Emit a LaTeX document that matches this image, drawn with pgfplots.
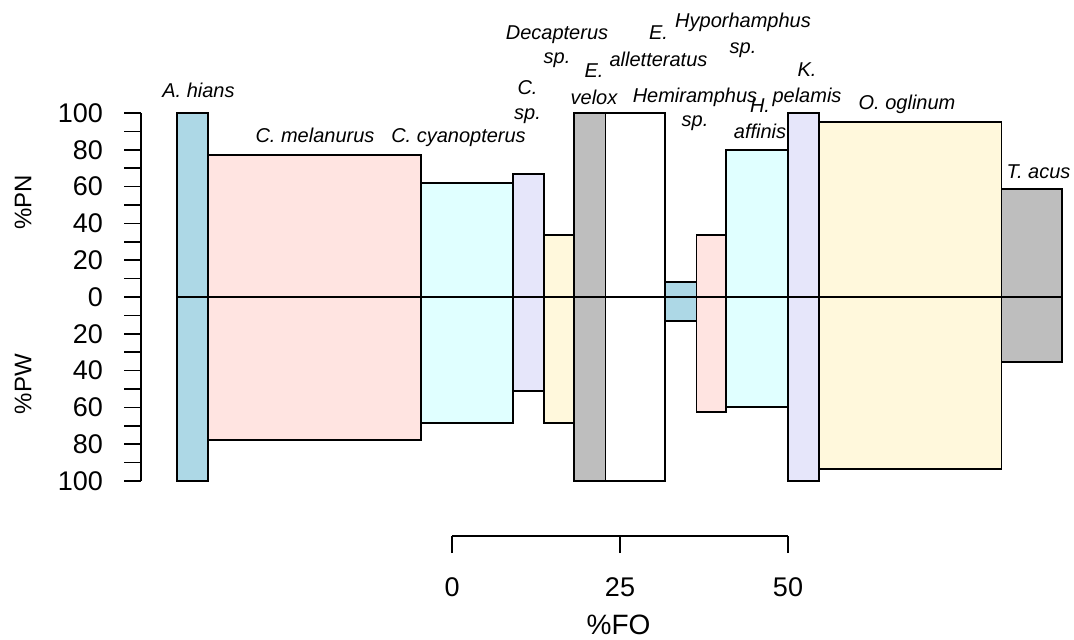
\documentclass[border=0pt]{standalone}
\usepackage{fontspec}
\setmainfont{Liberation Sans}
\usepackage{pgfplots}
\pgfplotsset{compat=1.18}
\definecolor{cLB}{RGB}{173,216,230}
\definecolor{cMR}{RGB}{255,228,225}
\definecolor{cLC}{RGB}{224,255,255}
\definecolor{cLV}{RGB}{230,230,250}
\definecolor{cCS}{RGB}{255,248,220}
\definecolor{cGR}{RGB}{190,190,190}
\begin{document}
\begin{tikzpicture}[lab/.style={anchor=base, font=\fontsize{10}{12}\selectfont\itshape, inner sep=0pt}]
\useasboundingbox (0,0) rectangle (537pt,319.5pt);
\begin{axis}[
  at={(226pt,171pt)}, anchor=origin,
  x=3.36pt, y=0.92pt,
  xmin=-46.28, xmax=90.82, ymin=-100, ymax=100,
  axis x line=none, axis y line*=left,
  axis line style={line width=0.8pt, black},
  ytick={-100,-80,-60,-40,-20,0,20,40,60,80,100},
  minor ytick={-90,-70,-50,-30,-10,10,30,50,70,90},
  yticklabels={100,80,60,40,20,0,20,40,60,80,100},
  tick align=outside, major tick length=8.5pt, minor tick length=8.5pt,
  tick style={line width=0.8pt, black},
  yticklabel style={font=\fontsize{13.5}{16}\selectfont, xshift=-7pt},
  clip=false,
]
\addplot[fill=cLB, draw=black, line width=0.9pt] coordinates {(-40.92,-100) (-40.92,100) (-36.31,100) (-36.31,-100)} -- cycle;
\addplot[fill=cMR, draw=black, line width=0.9pt] coordinates {(-36.31,-77.7) (-36.31,77.2) (-4.61,77.2) (-4.61,-77.7)} -- cycle;
\addplot[fill=cLC, draw=black, line width=0.9pt] coordinates {(-4.61,-68.5) (-4.61,62.0) (9.08,62.0) (9.08,-68.5)} -- cycle;
\addplot[fill=cLV, draw=black, line width=0.9pt] coordinates {(9.08,-51.1) (9.08,66.8) (13.69,66.8) (13.69,-51.1)} -- cycle;
\addplot[fill=cCS, draw=black, line width=0.9pt] coordinates {(13.69,-68.5) (13.69,33.7) (18.15,33.7) (18.15,-68.5)} -- cycle;
\addplot[fill=cGR, draw=black, line width=0.9pt] coordinates {(18.15,-100) (18.15,100) (22.84,100) (22.84,-100)} -- cycle;
\addplot[fill=white, draw=black, line width=0.9pt] coordinates {(22.84,-100) (22.84,100) (31.70,100) (31.70,-100)} -- cycle;
\addplot[fill=cLB, draw=black, line width=0.9pt] coordinates {(31.70,-13.0) (31.70,8.2) (36.38,8.2) (36.38,-13.0)} -- cycle;
\addplot[fill=cMR, draw=black, line width=0.9pt] coordinates {(36.38,-62.5) (36.38,33.7) (40.77,33.7) (40.77,-62.5)} -- cycle;
\addplot[fill=cLC, draw=black, line width=0.9pt] coordinates {(40.77,-59.8) (40.77,79.9) (50.00,79.9) (50.00,-59.8)} -- cycle;
\addplot[fill=cLV, draw=black, line width=0.9pt] coordinates {(50.00,-100) (50.00,100) (54.66,100) (54.66,-100)} -- cycle;
\addplot[fill=cCS, draw=black, line width=0.9pt] coordinates {(54.66,-93.5) (54.66,95.1) (81.77,95.1) (81.77,-93.5)} -- cycle;
\addplot[fill=cGR, draw=black, line width=0.9pt] coordinates {(81.77,-35.2) (81.77,58.5) (90.82,58.5) (90.82,-35.2)} -- cycle;
\addplot[black, line width=0.8pt] coordinates {(-40.92,0) (90.82,0)};
\end{axis}
\begin{axis}[
  at={(226pt,51.5pt)}, anchor=origin,
  x=3.36pt, y=1pt, xmin=0, xmax=50, ymin=0, ymax=1,
  axis x line*=bottom, axis y line=none,
  axis line style={line width=0.8pt, black},
  xtick={0,25,50}, xticklabels={0,25,50},
  tick align=outside, major tick length=8.5pt,
  tick style={line width=0.8pt, black},
  xticklabel style={font=\fontsize{13.5}{16}\selectfont, yshift=-9pt},
  clip=false,
]
\end{axis}
\node[anchor=base, font=\fontsize{14}{16}\selectfont, inner sep=0pt] at (309.25pt,2.5pt) {\%FO};
\node[rotate=90, anchor=center, font=\fontsize{12}{14}\selectfont, inner sep=0pt] at (11.5pt,218.5pt) {\%PN};
\node[rotate=90, anchor=center, font=\fontsize{12}{14}\selectfont, inner sep=0pt] at (11.5pt,127.5pt) {\%PW};
\node[lab] at (99.25pt,271pt) {A. hians};
\node[lab] at (157.5pt,248.5pt) {C. melanurus};
\node[lab] at (229.25pt,248.5pt) {C. cyanopterus};
\node[lab] at (263.75pt,272.5pt) {C.};
\node[lab] at (263.75pt,260pt) {sp.};
\node[lab] at (278.5pt,299.75pt) {Decapterus};
\node[lab] at (278.5pt,287.5pt) {sp.};
\node[lab] at (297pt,280.75pt) {E.};
\node[lab] at (297pt,267.5pt) {velox};
\node[lab] at (329.25pt,299.5pt) {E.};
\node[lab] at (329.25pt,286.5pt) {alletteratus};
\node[lab] at (347.5pt,268.5pt) {Hemiramphus};
\node[lab] at (347.5pt,256.5pt) {sp.};
\node[lab] at (371.5pt,305.5pt) {Hyporhamphus};
\node[lab] at (371.5pt,293pt) {sp.};
\node[lab] at (380pt,263.5pt) {H.};
\node[lab] at (380pt,250.5pt) {affinis};
\node[lab] at (403.5pt,281.5pt) {K.};
\node[lab] at (403.5pt,268.5pt) {pelamis};
\node[lab] at (453.5pt,265pt) {O. oglinum};
\node[lab] at (519.25pt,230.5pt) {T. acus};
\end{tikzpicture}
\end{document}
